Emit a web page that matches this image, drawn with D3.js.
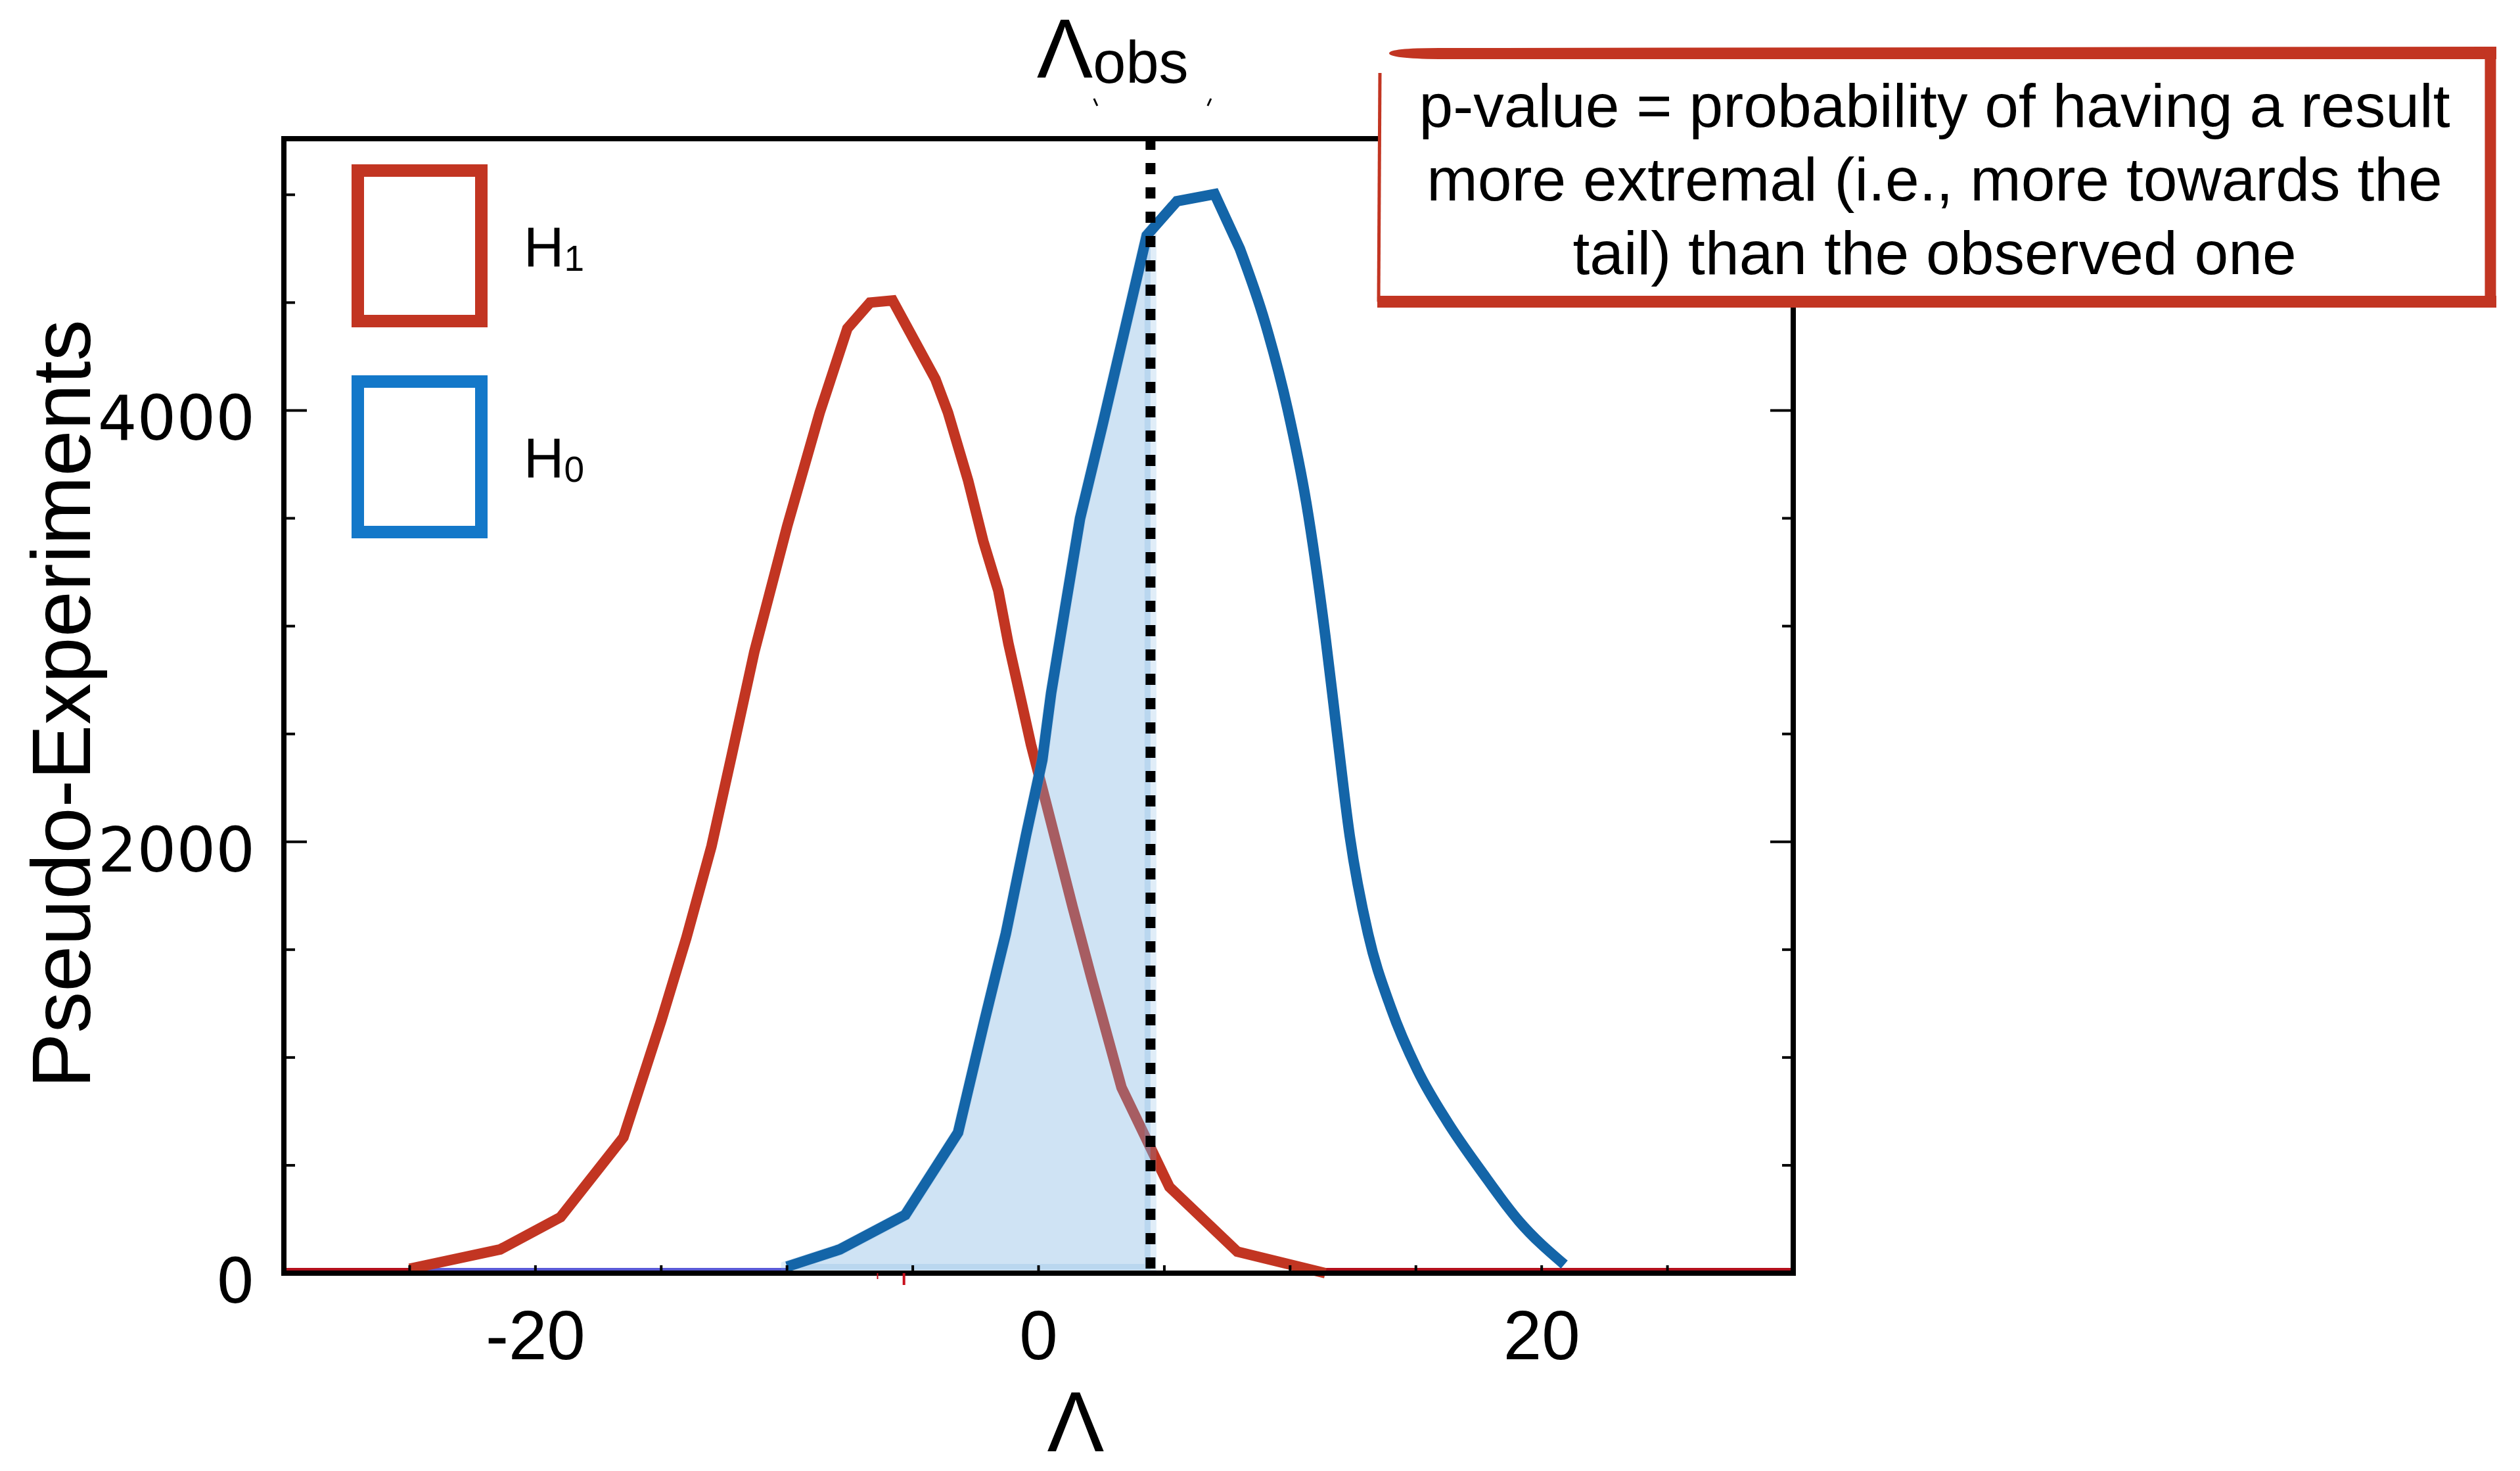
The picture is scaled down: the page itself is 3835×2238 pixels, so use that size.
<!DOCTYPE html>
<html>
<head>
<meta charset="utf-8">
<script src="https://cdn.jsdelivr.net/npm/d3@7"></script>
<style>
  html, body { margin: 0; padding: 0; background: #ffffff; }
  svg { display: block; }
</style>
</head>
<body>
<script>
// Pseudo-experiment distributions of the test statistic Λ under H1 and H0
const h1Lambda = [-25, -21.4, -19.0, -16.5, -15.0, -14.0, -13.0, -12.2, -11.3, -10.0, -8.7, -7.6, -6.7, -5.8,
                  -4.1, -3.6, -2.8, -2.2, -1.6, -1.2, -0.7, -0.3, 0.3, 1.35, 2.1, 3.3, 5.2, 7.9, 11.4];
const h1Counts = [20, 110, 260, 630, 1170, 1555, 1980, 2400, 2880, 3460, 3990, 4380, 4500, 4510,
                  4145, 3990, 3675, 3395, 3165, 2920, 2660, 2450, 2180, 1700, 1370, 860, 400, 100, 0];

const h0Lambda = [-10, -7.9, -5.3, -3.2, -2.15, -1.3, -0.5, 0.15, 0.5, 1.05, 1.65, 2.55, 4.3, 5.5, 7.0,
                  8.0, 9.0, 9.9, 10.65, 11.4, 11.85, 12.37, 13.1, 14.0, 15.06, 16.27, 17.62, 19.1, 20.9];
const h0Counts = [30, 110, 270, 652, 1170, 1575, 2030, 2380, 2690, 3080, 3500, 3936, 4811, 4970, 5003,
                  4750, 4409, 4006, 3567, 2954, 2518, 2027, 1573, 1232, 942, 698, 470, 241, 40];
// the H0 tail is drawn as a smooth curve from this bin onwards
const h0SmoothFrom = 8.0;

// observed value of the statistic
const lambdaObs = 4.45;

// empty-bin stretches of each histogram along the baseline
const h0EmptyRanges = [[-30, -10], [20.9, 30]];
const h1EmptyRanges = [[-30, -25], [11.4, 30]];
const h1MeanMarks = [-6.4, -5.35];

const xMajorTicks = [-20, 0, 20];
const xMinorTicks = [-25, -20, -15, -10, -5, 0, 5, 10, 15, 20, 25];
const yMajorTicks = [0, 2000, 4000];
const yMinorTicks = [500, 1000, 1500, 2000, 2500, 3000, 3500, 4000, 4500, 5000];

const legendItems = ["1", "0"];
const pValueLines = [
  "p-value = probability of having a result",
  "more extremal (i.e., more towards the",
  "tail) than the observed one"
];

const W = 3835, H = 2238;
const frame = { left: 432, right: 2729, top: 211, bottom: 1937 };
const red = "#c23522", blueLine = "#1465a8", blueKey = "#1378c9";
const font = "'Liberation Sans', Arial, Helvetica, sans-serif";

const svg = d3.select("body").append("svg")
  .attr("width", W).attr("height", H)
  .attr("viewBox", `0 0 ${W} ${H}`);

svg.append("rect").attr("width", W).attr("height", H).attr("fill", "#fff");

const x = d3.scaleLinear().domain([-30, 30]).range([frame.left, frame.right]);
const y = d3.scaleLinear().domain([0, 5260]).range([frame.bottom, frame.top]);

const h1 = h1Lambda.map((v, i) => ({ l: v, n: h1Counts[i] }));
const h0 = h0Lambda.map((v, i) => ({ l: v, n: h0Counts[i] }));

const line = d3.line().x(d => x(d.l)).y(d => y(d.n));
const smoothLine = d3.line().x(d => x(d.l)).y(d => y(d.n)).curve(d3.curveMonotoneX);

// baseline traces of the empty bins
const baseY = y(0) - 5;
const g0 = svg.append("g");
g0.selectAll("line.h0b").data(h0EmptyRanges).join("line")
  .attr("x1", d => x(d[0])).attr("x2", d => x(d[1]))
  .attr("y1", baseY).attr("y2", baseY)
  .attr("stroke", "#5a5ad6").attr("stroke-width", 6);
g0.selectAll("line.h1b").data(h1EmptyRanges).join("line")
  .attr("x1", d => x(d[0])).attr("x2", d => x(d[1]))
  .attr("y1", baseY).attr("y2", baseY)
  .attr("stroke", "#b3101c").attr("stroke-width", 6);

// H1 curve
svg.append("path").datum(h1)
  .attr("d", line)
  .attr("fill", "none").attr("stroke", red)
  .attr("stroke-width", 16).attr("stroke-linejoin", "miter");

// shaded H0 tail beyond the observed value (left side)
const h0Tail = [];
h0.forEach((d, i) => {
  if (d.l <= lambdaObs) h0Tail.push(d);
  const nx = h0[i + 1];
  if (nx && d.l < lambdaObs && nx.l > lambdaObs) {
    const t = (lambdaObs - d.l) / (nx.l - d.l);
    h0Tail.push({ l: lambdaObs, n: d.n + t * (nx.n - d.n) });
  }
});
const area = d3.area().x(d => x(d.l)).y0(y(0) - 5).y1(d => y(d.n));
svg.append("path").datum(h0Tail)
  .attr("d", area)
  .attr("fill", "#72addf").attr("fill-opacity", 0.34)
  .attr("stroke", "#72addf").attr("stroke-opacity", 0.22)
  .attr("stroke-width", 18);

// H0 curve: straight segments up to the peak region, smooth tail afterwards
const splitIdx = h0.findIndex(d => d.l >= h0SmoothFrom);
const headD = line(h0.slice(0, splitIdx + 1));
const tailD = smoothLine(h0.slice(splitIdx));
svg.append("path")
  .attr("d", headD + "L" + tailD.slice(1))
  .attr("fill", "none").attr("stroke", blueLine)
  .attr("stroke-width", 16).attr("stroke-linejoin", "miter");

// observed value marker
svg.append("line")
  .attr("x1", x(lambdaObs)).attr("x2", x(lambdaObs))
  .attr("y1", frame.top).attr("y2", y(0))
  .attr("stroke", "#000").attr("stroke-width", 15)
  .attr("stroke-dasharray", "17,20");

// frame
svg.append("rect")
  .attr("x", frame.left).attr("y", frame.top)
  .attr("width", frame.right - frame.left).attr("height", frame.bottom - frame.top)
  .attr("fill", "none").attr("stroke", "#000").attr("stroke-width", 8);

// red marks under the axis
svg.selectAll("line.mean").data(h1MeanMarks).join("line")
  .attr("x1", d => x(d)).attr("x2", d => x(d))
  .attr("y1", y(0)).attr("y2", (d, i) => y(0) + (i ? 18 : 9))
  .attr("stroke", "#c8101c").attr("stroke-width", (d, i) => i ? 4 : 2);

// x ticks (inward) and labels
svg.append("g").selectAll("line").data(xMinorTicks).join("line")
  .attr("x1", d => x(d)).attr("x2", d => x(d))
  .attr("y1", y(0)).attr("y2", y(0) - 12)
  .attr("stroke", "#000").attr("stroke-width", 4);
svg.append("g").selectAll("text").data(xMajorTicks).join("text")
  .attr("x", d => x(d)).attr("y", 2068)
  .attr("text-anchor", "middle")
  .attr("font-family", font).attr("font-size", 105)
  .text(d => d);

// y ticks on both sides (inward) and labels
[frame.left, frame.right].forEach((fx, side) => {
  const dir = side === 0 ? 1 : -1;
  svg.append("g").selectAll("line").data(yMinorTicks).join("line")
    .attr("x1", fx).attr("x2", d => fx + dir * (yMajorTicks.includes(d) ? 35 : 17))
    .attr("y1", d => y(d)).attr("y2", d => y(d))
    .attr("stroke", "#000").attr("stroke-width", 4);
});
svg.append("g").selectAll("text").data(yMajorTicks).join("text")
  .attr("x", 388).attr("y", d => y(d) + 45)
  .attr("text-anchor", "end")
  .attr("font-family", "'DejaVu Sans', Verdana, sans-serif").attr("font-size", 94)
  .text(d => d);

// axis titles
svg.append("text")
  .attr("transform", "translate(137,1071) rotate(-90)")
  .attr("text-anchor", "middle")
  .attr("font-family", font).attr("font-size", 126)
  .text("Pseudo-Experiments");
svg.append("text")
  .attr("x", 1637).attr("y", 2208)
  .attr("text-anchor", "middle")
  .attr("font-family", font).attr("font-size", 130)
  .text("Λ");

// Λobs label above the frame
const obsLabel = svg.append("text")
  .attr("x", x(lambdaObs) - 173).attr("y", 118)
  .attr("font-family", font).attr("font-size", 128);
obsLabel.append("tspan").text("Λ");
obsLabel.append("tspan").attr("font-size", 90).attr("dy", 8).text("obs");
const ox = x(lambdaObs);
svg.append("line").attr("x1", ox - 86).attr("y1", 150).attr("x2", ox - 81).attr("y2", 161)
  .attr("stroke", "#000").attr("stroke-width", 3);
svg.append("line").attr("x1", ox + 92).attr("y1", 150).attr("x2", ox + 87).attr("y2", 161)
  .attr("stroke", "#000").attr("stroke-width", 3);

// legend
const legend = svg.append("g");
legendItems.forEach((sub, i) => {
  const top = 259.5 + i * 321;
  legend.append("rect")
    .attr("x", 544.5).attr("y", top).attr("width", 188).attr("height", 229)
    .attr("fill", "none").attr("stroke", i === 0 ? red : blueKey).attr("stroke-width", 19);
  const t = legend.append("text")
    .attr("x", 797).attr("y", top + 145)
    .attr("font-family", font).attr("font-size", 85);
  t.append("tspan").text("H");
  t.append("tspan").attr("font-size", 55).attr("dy", 7).text(sub);
});

// p-value note
const note = svg.append("g");
const bx0 = 2100, bx1 = 3790, by0 = 81, by1 = 459;
note.append("rect").attr("x", bx0).attr("y", by0).attr("width", bx1 - bx0).attr("height", by1 - by0)
  .attr("fill", "#fff");
note.append("path")
  .attr("d", `M${bx0 + 14},${by0} Q${bx0 + 14},${by0 - 8} ${bx0 + 90},${by0 - 8} L${bx1 + 9},${by0 - 10} L${bx1 + 9},${by0 + 9} L${bx0 + 90},${by0 + 9} Q${bx0 + 14},${by0 + 8} ${bx0 + 14},${by0}Z`)
  .attr("fill", red);
note.append("line").attr("x1", bx1).attr("x2", bx1).attr("y1", by0 - 10).attr("y2", by1 + 9)
  .attr("stroke", red).attr("stroke-width", 17);
note.append("line").attr("x1", bx0 - 4).attr("x2", bx1 + 9).attr("y1", by1).attr("y2", by1)
  .attr("stroke", red).attr("stroke-width", 18);
note.append("line").attr("x1", bx0).attr("x2", bx0 - 2).attr("y1", by0 + 30).attr("y2", by1)
  .attr("stroke", red).attr("stroke-width", 5);
note.selectAll("text").data(pValueLines).join("text")
  .attr("x", 2944).attr("y", (d, i) => 193 + i * 112)
  .attr("text-anchor", "middle")
  .attr("font-family", font).attr("font-size", 93)
  .text(d => d);
</script>
</body>
</html>
